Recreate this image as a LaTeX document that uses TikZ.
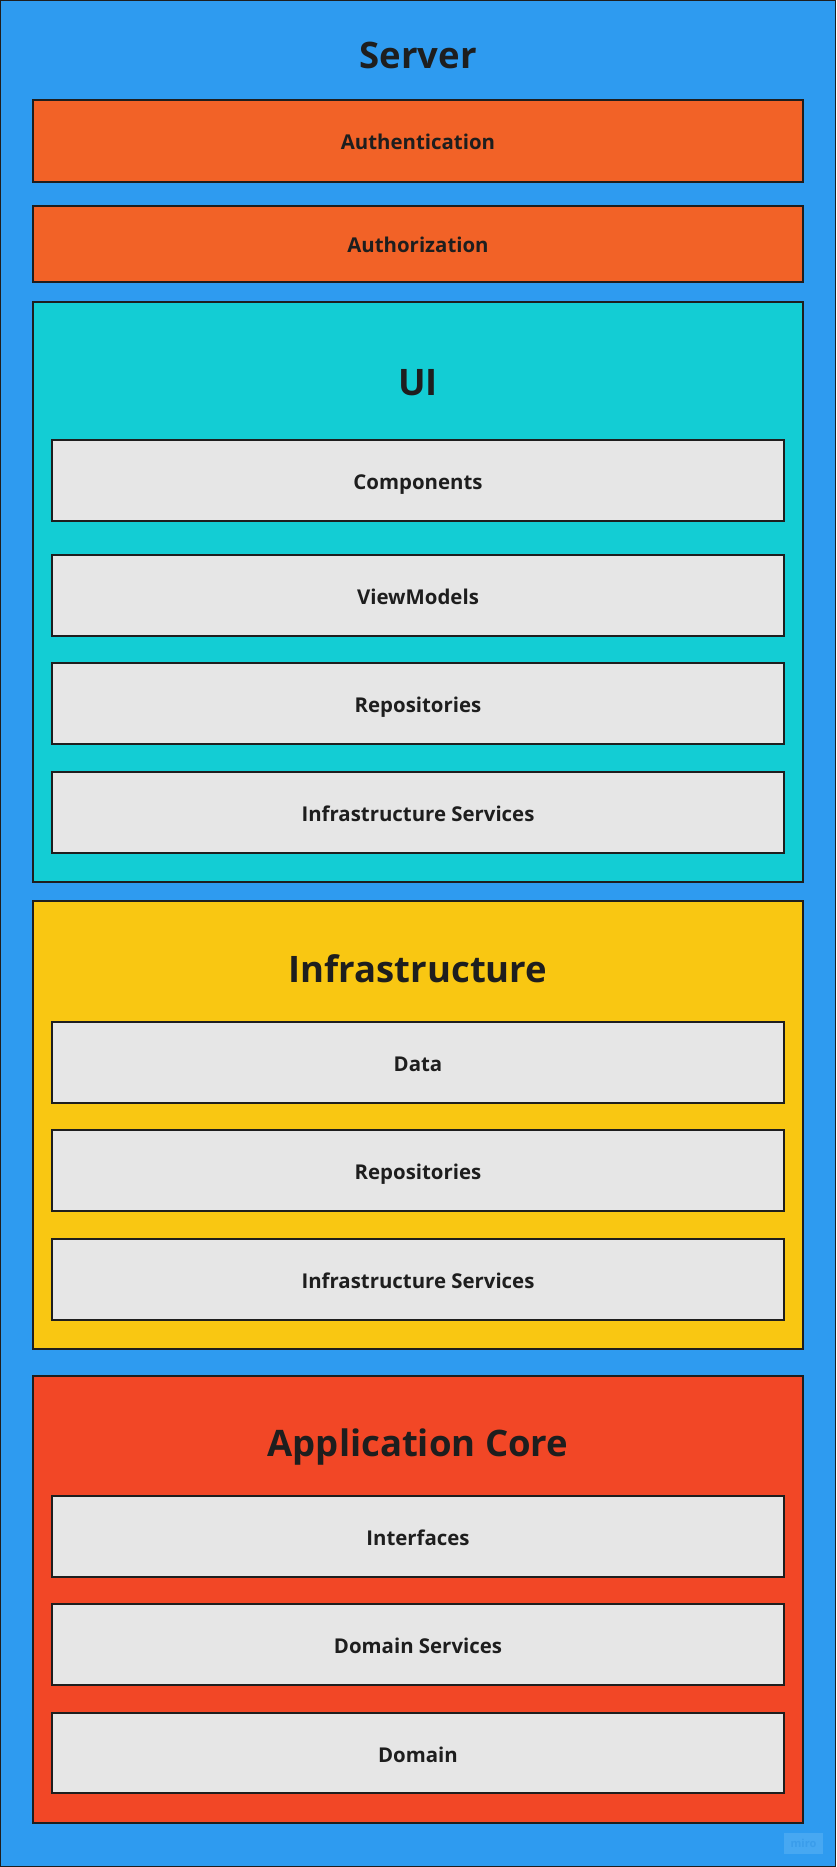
\documentclass[tikz,border=0pt]{standalone}
\usepackage{fontspec}
\setmainfont{Open Sans}[BoldFont={* Bold}]
\definecolor{srvblue}{HTML}{2E9BF0}
\definecolor{authorange}{HTML}{F26227}
\definecolor{uicyan}{HTML}{13CDD4}
\definecolor{infyellow}{HTML}{F9C712}
\definecolor{corered}{HTML}{F24726}
\definecolor{boxgray}{HTML}{E6E6E6}
\definecolor{edge}{HTML}{1E1E1E}
\definecolor{mirobox}{HTML}{47A8F2}
\definecolor{mirotext}{HTML}{3A9DEB}
\tikzset{
  panel/.style={draw=edge, line width=1.2pt},
  layerbox/.style={panel, fill=boxgray},
  bigtitle/.style={font=\fontsize{36.5}{36.5}\selectfont\bfseries, text=edge, anchor=base, inner sep=0pt},
  smalllabel/.style={font=\fontsize{20.4}{20.4}\selectfont\bfseries, text=edge, anchor=base, inner sep=0pt},
}
\begin{document}
\begin{tikzpicture}[x=1pt,y=-1pt]
\useasboundingbox (0,0) rectangle (836,1867);
% outer server
\draw[panel, fill=srvblue] (0.7,0.7) rectangle (835.3,1866.3);
\node[bigtitle] (server) at (418,68.5) {Server};
% authentication / authorization
\draw[panel, fill=authorange] (33,100) rectangle (803,182);
\node[smalllabel] (authn) at (418,150) {Authentication};
\draw[panel, fill=authorange] (33,206) rectangle (803,282);
\node[smalllabel] (authz) at (418,252.5) {Authorization};
% UI
\draw[panel, fill=uicyan] (33,302) rectangle (803,882);
\node[bigtitle] (ui) at (418,395.5) {UI};
\draw[layerbox] (52,440) rectangle (784,521);
\node[smalllabel] (comp) at (418,489.5) {Components};
\draw[layerbox] (52,555) rectangle (784,636);
\node[smalllabel] (vm) at (418,604.5) {ViewModels};
\draw[layerbox] (52,663) rectangle (784,744);
\node[smalllabel] (uirepo) at (418,712.5) {Repositories};
\draw[layerbox] (52,772) rectangle (784,853);
\node[smalllabel] (uiinfra) at (418,821.5) {Infrastructure Services};
% Infrastructure
\draw[panel, fill=infyellow] (33,901) rectangle (803,1349);
\node[bigtitle] (infra) at (418,982) {Infrastructure};
\draw[layerbox] (52,1022) rectangle (784,1103);
\node[smalllabel] (data) at (418,1071.5) {Data};
\draw[layerbox] (52,1130) rectangle (784,1211);
\node[smalllabel] (infrepo) at (418,1179.5) {Repositories};
\draw[layerbox] (52,1239) rectangle (784,1320);
\node[smalllabel] (infsvc) at (418,1288.5) {Infrastructure Services};
% Application Core
\draw[panel, fill=corered] (33,1376) rectangle (803,1823);
\node[bigtitle] (core) at (418,1456.5) {Application Core};
\draw[layerbox] (52,1496) rectangle (784,1577);
\node[smalllabel] (ifaces) at (418,1545.5) {Interfaces};
\draw[layerbox] (52,1604) rectangle (784,1685);
\node[smalllabel] (dsvc) at (418,1653.5) {Domain Services};
\draw[layerbox] (52,1713) rectangle (784,1793);
\node[smalllabel] (domain) at (418,1762) {Domain};
% miro watermark
\fill[mirobox] (784,1833) rectangle (823,1854);
\node[font=\fontsize{11}{11}\selectfont\bfseries, text=mirotext, inner sep=0pt] (miro) at (803.5,1843.5) {miro};
\end{tikzpicture}
\end{document}
